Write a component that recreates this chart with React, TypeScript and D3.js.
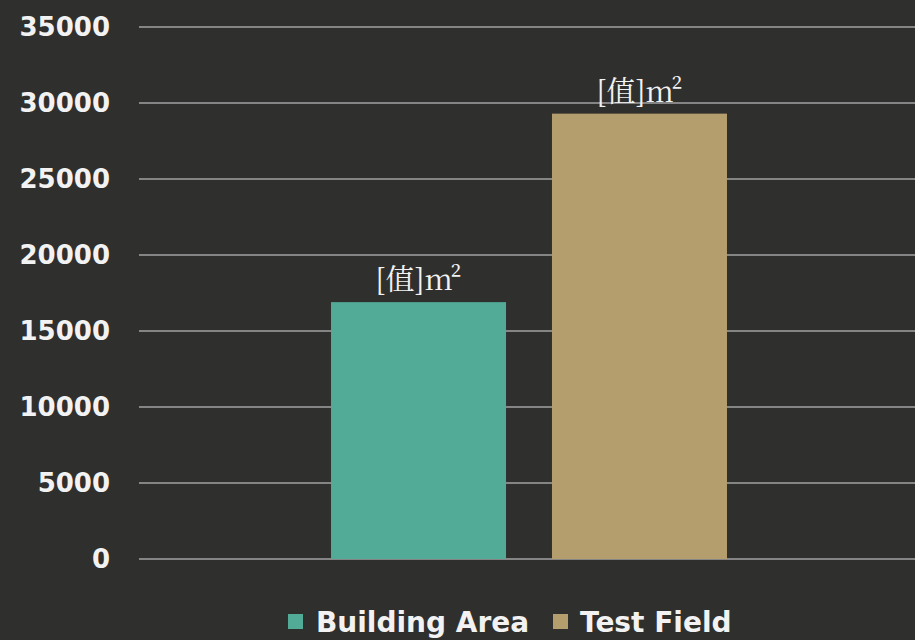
import React, { useEffect, useRef } from 'react';
import * as d3 from 'd3';

const categories = ['Building Area', 'Test Field'];
const values = [16900, 29300];
const dataLabels = ['[值]m²', '[值]m²'];
const yTicks = [0, 5000, 10000, 15000, 20000, 25000, 30000, 35000];
const colors = ['#52ab97', '#b59e6d'];

const App: React.FC = () => {
  const svgRef = useRef<SVGSVGElement>(null);

  useEffect(() => {
    if (!svgRef.current) return;
    const width = 915;
    const height = 640;

    const svg = d3.select(svgRef.current);
    svg.selectAll('*').remove();

    svg.append('rect')
      .attr('width', width)
      .attr('height', height)
      .attr('fill', '#2f2f2e');

    const margin = { top: 27, left: 139, right: -4, bottom: 81 };
    const innerW = width - margin.left - margin.right;
    const innerH = height - margin.top - margin.bottom;

    const g = svg.append('g').attr('transform', `translate(${margin.left},${margin.top})`);

    const y = d3.scaleLinear().domain([0, 35000]).range([innerH, 0]);
    const x = d3.scaleBand<string>()
      .domain(categories)
      .range([0, innerW])
      .paddingInner(0.208)
      .paddingOuter(0.869);

    // gridlines
    g.selectAll('line.grid')
      .data(yTicks)
      .enter()
      .append('line')
      .attr('class', 'grid')
      .attr('x1', 0)
      .attr('x2', innerW)
      .attr('y1', d => y(d))
      .attr('y2', d => y(d))
      .attr('stroke', '#a3a3a3')
      .attr('stroke-width', 1.5);

    // tick labels
    g.selectAll('text.tick')
      .data(yTicks)
      .enter()
      .append('text')
      .attr('class', 'tick')
      .attr('x', -29)
      .attr('y', d => y(d))
      .attr('dy', '0.36em')
      .attr('text-anchor', 'end')
      .attr('fill', '#f2f2f2')
      .attr('font-family', '"DejaVu Sans", sans-serif')
      .attr('font-weight', 'bold')
      .attr('font-size', 26)
      .text(d => String(d));

    // bars
    g.selectAll('rect.bar')
      .data(values)
      .enter()
      .append('rect')
      .attr('class', 'bar')
      .attr('x', (_, i) => x(categories[i]) as number)
      .attr('width', x.bandwidth())
      .attr('y', d => y(d))
      .attr('height', d => innerH - y(d))
      .attr('fill', (_, i) => colors[i]);

    // data labels
    g.selectAll('text.lbl')
      .data(values)
      .enter()
      .append('text')
      .attr('class', 'lbl')
      .attr('x', (_, i) => (x(categories[i]) as number) + x.bandwidth() / 2)
      .attr('y', d => y(d) - 12)
      .attr('text-anchor', 'middle')
      .attr('fill', '#f2f2f2')
      .attr('font-family', '"Noto Serif CJK SC", "Liberation Serif", serif')
      .attr('font-size', 29)
      .text((_, i) => dataLabels[i]);

    // legend
    const legend = svg.append('g').attr('transform', `translate(0, 622)`);
    const items = [
      { x: 288, tx: 316 },
      { x: 553, tx: 580 },
    ];
    categories.forEach((c, i) => {
      legend.append('rect')
        .attr('x', items[i].x)
        .attr('y', -8)
        .attr('width', 15)
        .attr('height', 15)
        .attr('fill', colors[i]);
      legend.append('text')
        .attr('x', items[i].tx)
        .attr('y', 0)
        .attr('dy', '0.36em')
        .attr('fill', '#f2f2f2')
        .attr('font-family', '"DejaVu Sans", sans-serif')
        .attr('font-weight', 'bold')
        .attr('font-size', 28)
        .text(c);
    });
  }, []);

  return (
    <div style={{ position: 'fixed', left: 0, top: 0 }}>
      <svg ref={svgRef} width={915} height={640} style={{ display: 'block' }}></svg>
    </div>
  );
};

export default App;
